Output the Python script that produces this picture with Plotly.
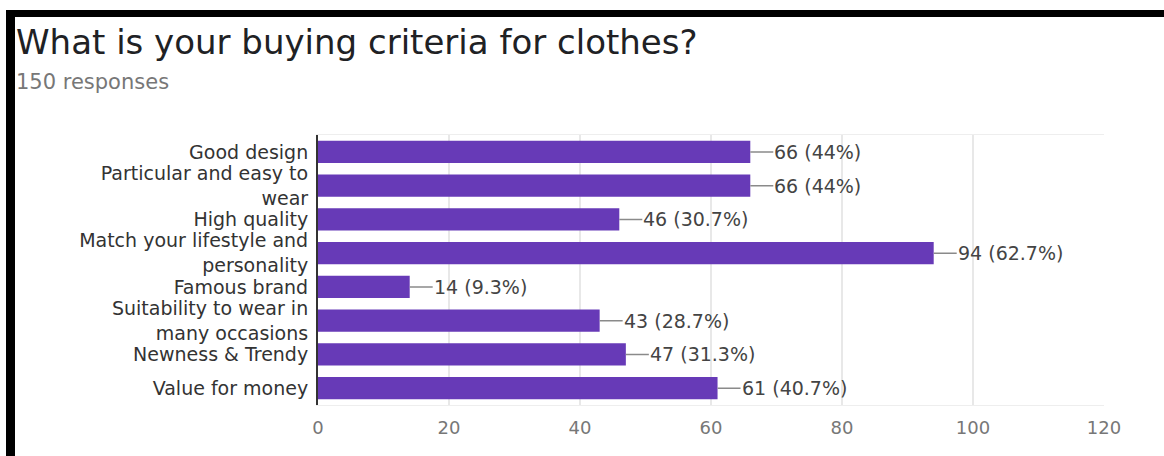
import plotly.graph_objects as go

categories = [
    "Good design",
    "Particular and easy to<br>wear",
    "High quality",
    "Match your lifestyle and<br>personality",
    "Famous brand",
    "Suitability to wear in<br>many occasions",
    "Newness & Trendy",
    "Value for money",
]
counts = [66, 66, 46, 94, 14, 43, 47, 61]
percents = ["44%", "44%", "30.7%", "62.7%", "9.3%", "28.7%", "31.3%", "40.7%"]
x_ticks = [0, 20, 40, 60, 80, 100, 120]

title_text = "What is your buying criteria for clothes?"
subtitle_text = "150 responses"

W, H = 1164, 456
L, R, T, B = 318, 60, 135, 51
PW, PH = W - L - R, H - T - B

def px(x):
    return (x - L) / PW

def py(y):
    return (H - B - y) / PH

FONT = "DejaVu Sans"
BAR = "#673ab7"

fig = go.Figure(
    go.Bar(
        x=counts,
        y=categories,
        orientation="h",
        marker=dict(color=BAR, line=dict(width=0)),
        hoverinfo="skip",
    )
)

annotations = []
for c, v, p in zip(categories, counts, percents):
    annotations.append(dict(
        x=v, y=c, xref="x", yref="y",
        text=f"{v} ({p})",
        showarrow=True, arrowhead=0, arrowwidth=1.5, arrowcolor="#8a8a8a",
        ax=23, ay=0, xanchor="left", yanchor="middle",
        font=dict(family=FONT, size=19, color="#444444"),
        standoff=0, borderpad=0,
    ))

annotations.append(dict(
    x=px(14), y=py(42), xref="paper", yref="paper",
    text=title_text, showarrow=False, xanchor="left", yanchor="middle",
    font=dict(family=FONT, size=34, color="#202124"),
))
annotations.append(dict(
    x=px(14), y=py(82), xref="paper", yref="paper",
    text=subtitle_text, showarrow=False, xanchor="left", yanchor="middle",
    font=dict(family=FONT, size=21, color="#777777"),
))

shapes = [
    dict(type="rect", xref="paper", yref="paper",
         x0=px(6), x1=px(W + 5), y0=py(10), y1=py(17),
         fillcolor="black", line=dict(width=0), layer="above"),
    dict(type="rect", xref="paper", yref="paper",
         x0=px(6), x1=px(15), y0=py(10), y1=py(H + 5),
         fillcolor="black", line=dict(width=0), layer="above"),
]

fig.update_layout(
    width=W, height=H,
    margin=dict(l=L, r=R, t=T, b=B, autoexpand=False),
    paper_bgcolor="white", plot_bgcolor="white",
    showlegend=False,
    bargap=0.34,
    annotations=annotations,
    shapes=shapes,
    font=dict(family=FONT, size=19, color="#333333"),
)

fig.update_xaxes(
    range=[0, 120], tickvals=x_ticks, ticks="",
    showgrid=True, gridcolor="#e8e8e8", gridwidth=2,
    zeroline=False,
    showline=True, mirror=True, linecolor="#eeeeee", linewidth=1,
    tickfont=dict(family=FONT, size=18, color="#777777"),
    ticklabelstandoff=6,
)
fig.update_yaxes(
    autorange="reversed", ticks="",
    showgrid=False, zeroline=False,
    showline=True, linecolor="#333333", linewidth=2,
    tickfont=dict(family=FONT, size=19, color="#333333"),
    ticklabelstandoff=4,
)

fig.write_html(
    "out.html",
    config={"displayModeBar": False},
    post_script="document.body.style.margin='0';document.body.style.overflow='hidden';",
)
